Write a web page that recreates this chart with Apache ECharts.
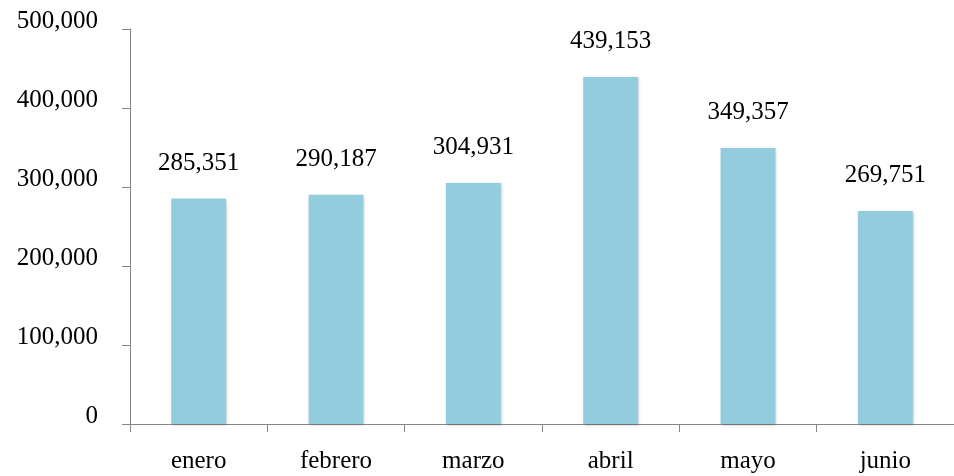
<!DOCTYPE html>
<html><head><meta charset="utf-8">
<script src="https://cdn.jsdelivr.net/npm/echarts@6/dist/echarts.min.js"></script>
<style>html,body{margin:0;padding:0;background:#fff}#c{width:954px;height:476px}</style>
</head><body><div id="c"></div>
<script>
const categories = ['enero','febrero','marzo','abril','mayo','junio'];
const values = [285351, 290187, 304931, 439153, 349357, 269751];
const yTicks = [0, 100000, 200000, 300000, 400000, 500000];

const fmt = v => String(v).replace(/\B(?=(\d{3})+(?!\d))/g, ',');
const font = 'Liberation Serif';
const chart = echarts.init(document.getElementById('c'));
chart.setOption({
  animation: false,
  grid: { left: 130, right: -9, top: 29, bottom: 52, containLabel: false },
  xAxis: {
    type: 'category', data: categories,
    axisLine: { lineStyle: { color: '#868686', width: 1 } },
    axisTick: { show: true, length: 8, lineStyle: { color: '#868686' }, alignWithLabel: false },
    axisLabel: { color: '#000', fontFamily: font, fontSize: 25, margin: 25 }
  },
  yAxis: {
    type: 'value', min: yTicks[0], max: yTicks[yTicks.length-1], interval: 100000,
    axisLine: { show: true, lineStyle: { color: '#868686', width: 1 } },
    axisTick: { show: true, length: 8, lineStyle: { color: '#868686' } },
    splitLine: { show: false },
    axisLabel: { color: '#000', fontFamily: font, fontSize: 25, margin: 32, verticalAlign: 'bottom', lineHeight: 16, formatter: v => fmt(v) }
  },
  series: [{
    type: 'bar', data: values, barWidth: '40%',
    itemStyle: { color: '#93CDDD', shadowColor: 'rgba(0,0,0,0.25)', shadowBlur: 3, shadowOffsetX: 1, shadowOffsetY: 1 },
    label: { show: true, position: 'top', distance: 23, color: '#000', fontFamily: font, fontSize: 25, formatter: p => fmt(p.value) }
  }]
});
</script></body></html>
